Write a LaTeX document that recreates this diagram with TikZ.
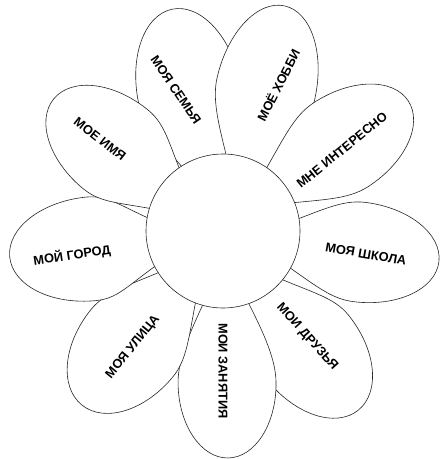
\documentclass[tikz,border=0pt]{standalone}
\usepackage{fontspec}
\setmainfont{Liberation Sans}
\newcommand\mypetal[7]{% #1 name, #2 x, #3 y (px), #4 angle, #5 L, #6 W, #7 a
  \begin{scope}[shift={(#2,-#3)}, rotate=#4]
    \draw[petalline] (-22,-14) .. controls (22,-36) and ({#5-#7-25},-#6) .. ({#5-#7},-#6)
      arc[start angle=-90,end angle=90,x radius=#7,y radius=#6]
      .. controls ({#5-#7-25},#6) and (22,36) .. (-22,14) -- cycle;
    \coordinate (#1) at (0,0);
  \end{scope}}
\tikzset{
  petalline/.style={draw=black!85, line width=0.6pt, fill=white},
  lbl/.style={font=\fontsize{12.8}{14}\selectfont\bfseries, inner sep=0pt},
}
\begin{document}
\begin{tikzpicture}[x=1pt,y=1pt]
\fill[white] (0,0) rectangle (441,-459);
\useasboundingbox (0,0) rectangle (441,-459);
\mypetal{p1}{203}{157}{101.8}{151}{52}{85}
\mypetal{p2}{250}{158}{77.1}{156}{50}{85}
\mypetal{p3}{285}{181}{33}{147}{50}{80}
\mypetal{p4}{295}{244}{-7.1}{145}{50}{80}
\mypetal{p5}{268}{298}{-51.2}{144}{52}{80}
\mypetal{p6}{226}{308}{-89.2}{150}{49}{75}
\mypetal{p7}{175}{290}{-129}{148}{53}{80}
\mypetal{p8}{149}{243}{185.75}{140}{52}{82}
\mypetal{p9}{163}{188}{140.8}{141}{51}{80}
\node[circle, draw=black!85, line width=0.6pt, fill=white, minimum size=154pt, inner sep=0pt] (c) at (223,-231) {};
\node[lbl, rotate=-56] (t1) at (176,-90) {МОЯ СЕМЬЯ};
\node[lbl, rotate=63] (t2) at (278,-85) {МОЁ ХОББИ};
\node[lbl, rotate=39] (t3) at (342,-150) {МНЕ ИНТЕРЕСНО};
\node[lbl, rotate=-10] (t4) at (366,-254) {МОЯ ШКОЛА};
\node[lbl, rotate=-48] (t5) at (307,-337) {МОИ ДРУЗЬЯ};
\node[lbl, rotate=-90] (t6) at (223,-371) {МОИ ЗАНЯТИЯ};
\node[lbl, rotate=51] (t7) at (133,-347) {МОЯ УЛИЦА};
\node[lbl, rotate=8.5] (t8) at (72,-255) {МОЙ ГОРОД};
\node[lbl, rotate=-38] (t9) at (100,-139) {МОЕ ИМЯ};
\end{tikzpicture}
\end{document}
